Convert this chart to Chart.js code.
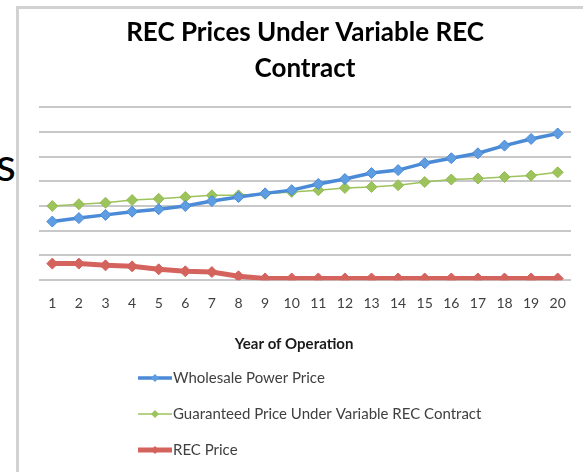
<!DOCTYPE html>
<html>
<head>
<meta charset="utf-8">
<script src="https://cdn.jsdelivr.net/npm/chart.js@4.4.1/dist/chart.umd.min.js"></script>
<style>
  html, body { margin: 0; padding: 0; background: #fff; width: 583px; height: 472px; overflow: hidden; position: relative; }
  #frame { position: absolute; left: 16px; top: 6px; width: 600px; height: 500px; border-left: 3px solid #d2d2d2; border-top: 3px solid #d2d2d2; }
  #slideText { position: absolute; left: -4px; top: 141px; font-family: Lato, sans-serif; font-size: 46px; line-height: 1; color: #000; }
  #wrap { position: absolute; left: 18px; top: 0; width: 576px; height: 472px; }
</style>
</head>
<body>
<div id="frame"></div>
<span id="slideText">s</span>
<div id="wrap"><canvas id="c" width="576" height="472"></canvas></div>
<script>
const years = ['1','2','3','4','5','6','7','8','9','10','11','12','13','14','15','16','17','18','19','20'];
const wholesalePowerPrice = [2.37, 2.51, 2.64, 2.77, 2.87, 3.00, 3.20, 3.36, 3.51, 3.64, 3.89, 4.09, 4.33, 4.45, 4.73, 4.93, 5.13, 5.44, 5.71, 5.93];
const guaranteedPrice = [3.00, 3.07, 3.13, 3.24, 3.29, 3.36, 3.43, 3.43, 3.49, 3.57, 3.64, 3.73, 3.77, 3.84, 3.97, 4.07, 4.11, 4.17, 4.23, 4.36];
const recPrice = [0.67, 0.67, 0.60, 0.56, 0.44, 0.36, 0.33, 0.16, 0.07, 0.07, 0.07, 0.07, 0.07, 0.07, 0.07, 0.07, 0.07, 0.07, 0.07, 0.07];
const seriesNames = ['Wholesale Power Price', 'Guaranteed Price Under Variable REC Contract', 'REC Price'];

const legendPlugin = {
  id: 'stackedLegend',
  afterDraw(chart) {
    const ctx = chart.ctx;
    const rows = [378, 414, 450];
    ctx.save();
    chart.data.datasets.forEach((ds, i) => {
      const y = rows[i];
      const x0 = 120, x1 = 154;
      ctx.strokeStyle = ds.borderColor;
      ctx.lineWidth = ds.borderWidth;
      ctx.lineCap = 'butt';
      ctx.beginPath();
      ctx.moveTo(x0, y);
      ctx.lineTo(x1, y);
      ctx.stroke();
      const cx = (x0 + x1) / 2, r = 4;
      ctx.fillStyle = ds.pointBackgroundColor;
      ctx.beginPath();
      ctx.moveTo(cx, y - r); ctx.lineTo(cx + r, y); ctx.lineTo(cx, y + r); ctx.lineTo(cx - r, y);
      ctx.closePath();
      ctx.fill();
      ctx.fillStyle = '#404040';
      ctx.font = '15px Lato, sans-serif';
      ctx.textBaseline = 'middle';
      ctx.textAlign = 'left';
      ctx.fillText(ds.label, x1 + 1, y);
    });
    ctx.restore();
  }
};

new Chart(document.getElementById('c'), {
  type: 'line',
  data: {
    labels: years,
    datasets: [
      { label: seriesNames[0], data: wholesalePowerPrice, borderColor: '#4a8ad6', borderWidth: 3.5,
        pointStyle: 'rectRot', pointRadius: 5.5, pointBackgroundColor: '#5f9de2', pointBorderColor: '#4a8ad6', pointBorderWidth: 1 },
      { label: seriesNames[1], data: guaranteedPrice, borderColor: '#9cc35c', borderWidth: 1.5,
        pointStyle: 'rectRot', pointRadius: 5.5, pointBackgroundColor: '#9cc35c', pointBorderColor: '#94bb55', pointBorderWidth: 1 },
      { label: seriesNames[2], data: recPrice, borderColor: '#d4635d', borderWidth: 5,
        pointStyle: 'rectRot', pointRadius: 5.5, pointBackgroundColor: '#d4635d', pointBorderColor: '#d4635d', pointBorderWidth: 1 }
    ]
  },
  options: {
    responsive: false,
    animation: false,
    devicePixelRatio: 1,
    layout: { padding: { left: 21, right: 23, top: 0, bottom: 119 } },
    plugins: {
      legend: { display: false },
      tooltip: { enabled: false },
      title: {
        display: true,
        text: ['REC Prices Under Variable REC', 'Contract'],
        color: '#000',
        font: { family: 'Lato, sans-serif', size: 26, weight: 'bold', lineHeight: 1.385 },
        padding: { top: 15, bottom: 20 }
      }
    },
    scales: {
      x: {
        offset: true,
        grid: { display: false, drawTicks: false },
        border: { display: false },
        ticks: { color: '#404040', font: { family: 'Lato, sans-serif', size: 14 }, padding: 15, maxRotation: 0, autoSkip: false },
        title: { display: true, text: 'Year of Operation      ', color: '#1a1a1a',
          font: { family: 'Lato, sans-serif', size: 15, weight: 'bold' }, padding: { top: 8, bottom: 0 } }
      },
      y: {
        display: true,
        min: 0, max: 7,
        ticks: { display: false, stepSize: 1 },
        grid: { color: '#c8c8c8', lineWidth: 2, drawTicks: false },
        border: { display: false }
      }
    }
  },
  plugins: [legendPlugin]
});
</script>
</body>
</html>
